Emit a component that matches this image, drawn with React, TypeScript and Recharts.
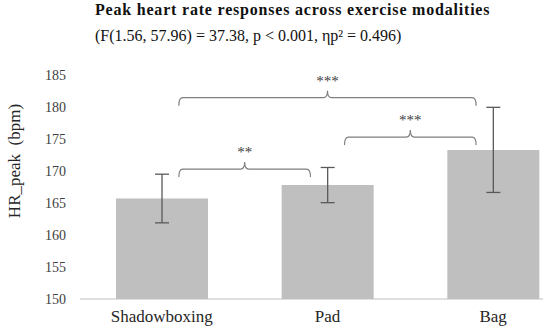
import React from "react";
import {
  BarChart,
  Bar,
  XAxis,
  YAxis,
  ErrorBar,
  ReferenceLine,
} from "recharts";

const categories = ["Shadowboxing", "Pad", "Bag"];
const means = [165.7, 167.8, 173.3];
const sds = [3.8, 2.75, 6.65];
const yTicks = [150, 155, 160, 165, 170, 175, 180, 185];

// significance brackets between groups
const bracketFrom = ["Shadowboxing", "Pad", "Shadowboxing"];
const bracketTo = ["Pad", "Bag", "Bag"];
const bracketY = [170.3, 175.3, 181.45];
const bracketStars = ["**", "***", "***"];

const SERIF = "Liberation Serif, DejaVu Serif";
const X_PAD = { left: -1, right: -33 };

const data = categories.map((name, i) => ({ name, mean: means[i], sd: sds[i] }));

const brace = (props: any) => {
  const { x1, x2, y1 } = props;
  const xl = Math.min(x1, x2) + 17;
  const xr = Math.max(x1, x2) - 17;
  const xm = (xl + xr) / 2;
  const y = y1;
  const d =
    `M${xl},${y + 8} Q${xl},${y} ${xl + 4},${y} L${xm - 4},${y} ` +
    `Q${xm},${y} ${xm},${y - 7} Q${xm},${y} ${xm + 4},${y} ` +
    `L${xr - 4},${y} Q${xr},${y} ${xr},${y + 8}`;
  return <path d={d} fill='none' stroke='#7f7f7f' strokeWidth={1.2} />;
};

const yLabel = (props: any) => {
  const { viewBox } = props;
  const cy = viewBox.y + viewBox.height / 2 - 26;
  return (
    <text
      x={20}
      y={cy}
      transform={`rotate(-90, 20, ${cy})`}
      textAnchor='middle'
      fontFamily={SERIF}
      fontSize={17}
      fill='#262626'
      style={{ whiteSpace: "pre" }}
    >
      {"HR_peak  (bpm)"}
    </text>
  );
};

export default function App() {
  return (
    <div
      style={{
        position: "absolute",
        left: 0,
        top: 0,
        width: 550,
        height: 332,
        background: "#fff",
        fontFamily: SERIF,
      }}
    >
      <div
        style={{
          position: "absolute",
          left: 95,
          top: 1,
          fontSize: 16,
          fontWeight: "bold",
          letterSpacing: 0.8,
          color: "#111",
          whiteSpace: "nowrap",
        }}
      >
        Peak heart rate responses across exercise modalities
      </div>
      <div
        style={{
          position: "absolute",
          left: 95,
          top: 27,
          fontSize: 16,
          color: "#111",
          whiteSpace: "nowrap",
        }}
      >
        (F(1.56, 57.96) = 37.38, p &lt; 0.001, ηp² = 0.496)
      </div>
      <BarChart
        width={550}
        height={332}
        data={data}
        margin={{ top: 75, right: 7, bottom: 0, left: 0 }}
      >
        <XAxis
          dataKey='name'
          padding={X_PAD}
          height={33}
          tickLine={false}
          tickSize={0}
          tickMargin={11}
          axisLine={{ stroke: "#bfbfbf", strokeWidth: 1 }}
          tick={{ fontFamily: SERIF, fontSize: 17, fill: "#262626" }}
          interval={0}
        />
        <YAxis
          width={80}
          domain={[150, 185]}
          ticks={yTicks}
          allowDataOverflow
          axisLine={false}
          tickLine={false}
          tickSize={0}
          tickMargin={14}
          tick={{ fontFamily: SERIF, fontSize: 14, fill: "#404040" }}
          label={{ content: yLabel }}
        />
        <Bar dataKey='mean' fill='#bfbfbf' barSize={92} isAnimationActive={false}>
          <ErrorBar
            dataKey='sd'
            width={7}
            stroke='#595959'
            strokeWidth={1.3}
            isAnimationActive={false}
          />
        </Bar>
        {bracketY.map((y, i) => (
          <ReferenceLine
            key={i}
            ifOverflow='visible'
            segment={[
              { x: bracketFrom[i], y },
              { x: bracketTo[i], y },
            ]}
            shape={brace}
            label={{
              value: bracketStars[i],
              position: "top",
              offset: 12,
              fontFamily: SERIF,
              fontSize: 15,
              fill: "#404040",
            }}
          />
        ))}
      </BarChart>
    </div>
  );
}
